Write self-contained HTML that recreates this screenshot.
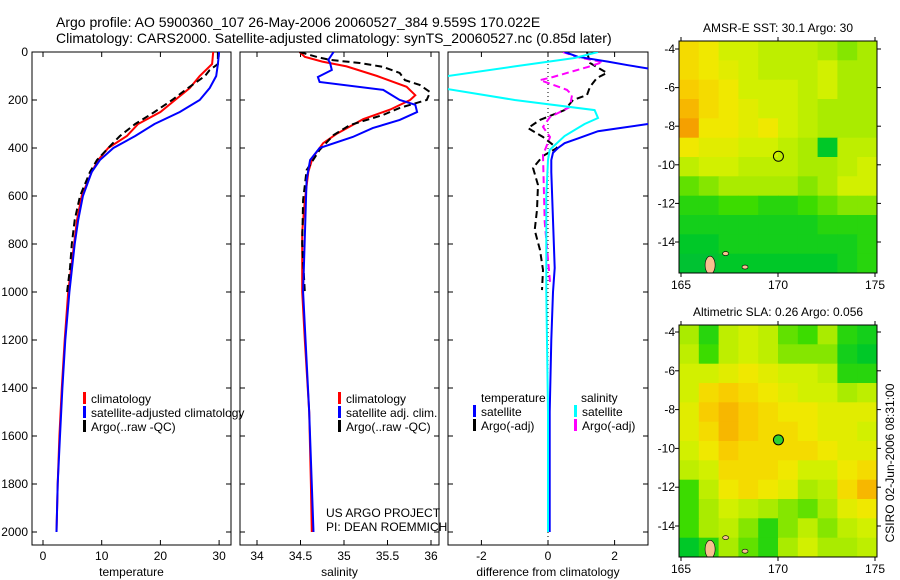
<!DOCTYPE html>
<html><head><meta charset="utf-8"><style>
html,body{margin:0;padding:0;background:#fff}
svg{display:block;font-family:"Liberation Sans",sans-serif}
text{fill:#000}
</style></head><body>
<svg id="fig" width="900" height="580" viewBox="0 0 900 580" xmlns="http://www.w3.org/2000/svg">
<defs>
<clipPath id="c1"><rect x="32" y="52" width="199" height="493"/></clipPath>
<clipPath id="c2"><rect x="240" y="52" width="199" height="493"/></clipPath>
<clipPath id="c3"><rect x="448" y="52" width="200" height="493"/></clipPath>
</defs>
<text x="56" y="27" font-size="14">Argo profile: AO 5900360_107 26-May-2006 20060527_384 9.559S 170.022E</text>
<text x="56" y="43" font-size="14">Climatology: CARS2000. Satellite-adjusted climatology: synTS_20060527.nc (0.85d later)</text>
<g id="g1"></g>
<g id="g2"></g>
<g id="g3"></g>
<g id="m1"></g>
<g id="m2"></g>
<text x="894" y="463" font-size="12" text-anchor="middle" transform="rotate(-90 894 463)">CSIRO 02-Jun-2006 08:31:00</text>
</svg>
<script>
// ---- profile data ----
const tDepth = [0,50,100,150,200,250,300,350,400,450,500,600,700,800,1000,1200,1400,1600,1800,2000];
const tClim  = [29,28.8,26.7,25,22.5,20,16.2,14.3,11.1,9.4,8.3,6.6,5.8,5.3,4.3,3.7,3.2,2.8,2.5,2.3];
const tSat   = [30,29.8,29.5,28.4,26.7,23.3,19,15.7,12,9.7,8.3,6.8,6,5.4,4.5,3.8,3.3,2.9,2.5,2.3];
const tArgoDepth = [0,50,75,100,150,200,250,300,350,400,450,500,600,700,800,900,1000];
const tArgo  = [29.8,29.8,28.4,27.6,24.7,22,19,15.7,13.1,11.1,9.2,8,6.3,5.4,4.9,4.6,4.1];

const sClimDepth = [0,20,40,60,100,145,180,200,240,280,340,380,440,500,620,750,1000,1200,1500,1800,2000];
const sClim = [34.49,34.55,34.75,35.03,35.38,35.72,35.82,35.76,35.53,35.22,34.92,34.76,34.64,34.59,34.55,34.52,34.52,34.55,34.6,34.62,34.63];
const sSatDepth = [0,33,46,75,104,125,158,200,220,250,283,317,354,400,450,533,1000,1500,2000];
const sSat = [34.88,34.82,34.84,34.86,34.7,34.72,35.45,35.64,35.82,35.84,35.64,35.33,35.1,34.72,34.61,34.57,34.53,34.6,34.65];
const sArgoDepth = [0,21,33,46,62,87,117,137,167,200,233,262,304,346,408,492,617,800,1000];
const sArgo = [34.49,34.69,34.84,35.18,35.45,35.64,35.7,35.87,35.99,35.95,35.64,35.45,35.07,34.88,34.72,34.57,34.53,34.52,34.55];

const dTSatDepth = [0,20,40,55,80,100,150,200,250,300,330,360,380,400,420,450,500,700,900,1000,1200,1500,2000];
const dTSat = [0.5,0.9,1.8,2.4,3.5,4,5,5,4,3.0,1.5,0.9,0.5,0.3,0.15,0.1,0.1,0.15,0.2,0.15,0.1,0.05,0.05];
const dSSatDepth = [0,25,60,104,150,200,242,275,300,350,408,450,600,1000,1500,2000];
const dSSat = [1.5,0.8,-1.0,-3.2,-3.2,-1.0,1.4,1.5,1.1,0.5,0.05,0,-0.05,-0.05,0,0];
const dTArgoDepth = [0,46,87,108,145,179,200,242,283,317,354,400,433,483,554,658,742,825,908,992];
const dTArgo = [1.17,1.26,1.77,1.47,1.26,1.17,0.75,0.5,-0.24,-0.6,-0.15,0.27,-0.15,-0.45,-0.3,-0.33,-0.4,-0.24,-0.15,-0.18];
const dSArgoDepth = [0,21,42,62,104,117,158,179,229,271,312,354,387,429,708,958];
const dSArgo = [0.45,0.87,1.65,1.2,0.15,-0.24,0.57,0.72,0.66,0.06,-0.15,0.06,-0.03,-0.15,-0.1,0.06];

const depthTicks = [0,200,400,600,800,1000,1200,1400,1600,1800,2000];
const tTicks = [0,10,20,30];
const sTicks = [34,34.5,35,35.5,36];
const dTicks = [-2,0,2];

// ---- map data (values 0 = green .. 1 = orange), rows lat -3.6..-15.6, cols lon 165..175 ----
const sstGrid = [
[.75,.7,.6,.6,.55,.55,.55,.5,.45,.5],
[.75,.7,.65,.6,.55,.55,.55,.6,.5,.5],
[.8,.75,.7,.6,.6,.6,.55,.6,.5,.5],
[.85,.75,.7,.65,.6,.6,.55,.5,.5,.5],
[.9,.7,.7,.65,.7,.6,.55,.5,.5,.5],
[.7,.65,.65,.6,.6,.55,.5,.2,.55,.55],
[.55,.6,.6,.55,.55,.55,.5,.5,.55,.6],
[.4,.45,.5,.5,.5,.5,.45,.5,.6,.6],
[.3,.3,.35,.35,.3,.3,.35,.4,.45,.45],
[.25,.25,.25,.25,.25,.25,.25,.3,.3,.3],
[.2,.2,.25,.25,.25,.25,.25,.25,.25,.3],
[.15,.15,.2,.2,.2,.2,.2,.2,.25,.3]];
const slaGrid = [
[.5,.3,.55,.6,.55,.4,.35,.5,.3,.25],
[.55,.35,.55,.6,.55,.45,.45,.45,.25,.2],
[.6,.6,.65,.7,.65,.6,.6,.55,.3,.3],
[.6,.75,.8,.75,.7,.65,.6,.6,.5,.55],
[.65,.8,.85,.8,.75,.7,.7,.65,.65,.65],
[.65,.75,.85,.8,.75,.75,.7,.65,.65,.6],
[.6,.7,.8,.75,.75,.75,.75,.7,.65,.65],
[.55,.6,.75,.75,.75,.7,.6,.6,.7,.75],
[.35,.55,.7,.75,.7,.65,.5,.55,.75,.85],
[.35,.5,.6,.55,.5,.45,.4,.5,.65,.7],
[.35,.5,.55,.45,.3,.45,.55,.45,.55,.6],
[.2,.3,.5,.4,.3,.5,.6,.5,.5,.55]];
const lonTicks = [165,170,175];
const latTicks = [-4,-6,-8,-10,-12,-14];
const argoLon = 170.022, argoLat = -9.559;

const NS = "http://www.w3.org/2000/svg";
function mk(tag, attrs, parent){const e=document.createElementNS(NS,tag);for(const k in attrs)e.setAttribute(k,attrs[k]);parent.appendChild(e);return e;}
const yD = d => 52 + d*0.24;

function panel(g, x0, w, xf, ticks, label, fmt){
  const r = mk('rect',{x:x0,y:52,width:w,height:493,fill:'none',stroke:'#000','stroke-width':1},g);
  
  
  ticks.forEach(t=>{
    const x=xf(t);
    mk('line',{x1:x,y1:545,x2:x,y2:540,stroke:'#000'},g);
    mk('line',{x1:x,y1:52,x2:x,y2:57,stroke:'#000'},g);
    const tx=mk('text',{x:x,y:560,'font-size':12,'text-anchor':'middle'},g);
    tx.textContent=fmt(t);
    
    
  });
  depthTicks.forEach(d=>{
    const y=yD(d);
    mk('line',{x1:x0+w,y1:y,x2:x0+w-5,y2:y,stroke:'#000'},g);
    mk('line',{x1:x0,y1:y,x2:x0+5,y2:y,stroke:'#000'},g);
  });
  const lt=mk('text',{x:x0+w/2,y:576,'font-size':12,'text-anchor':'middle'},g);
  lt.textContent=label;
  
  
}
function line(g, xs, ds, xf, color, clip, dash, width, name){
  const pts = xs.map((v,i)=>xf(v).toFixed(1)+','+yD(ds[i]).toFixed(1)).join(' ');
  const p=mk('polyline',{points:pts,fill:'none',stroke:color,'stroke-width':width||2,'clip-path':'url(#'+clip+')'},g);
  if(dash) p.setAttribute('stroke-dasharray',dash);
  
  
}
function legend(g, x, y, color, label){
  mk('rect',{x:x,y:y-6,width:3,height:12,fill:color},g);
  const t=mk('text',{x:x+8,y:y+5,'font-size':12},g);
  t.textContent=label;
  
  
}

// Panel 1 temperature
const g1=document.getElementById('g1');
const xT = v => 43 + v*5.87;
panel(g1,32,199,xT,tTicks,'temperature',v=>String(v));
depthTicks.forEach(d=>{
  const t=mk('text',{x:28,y:yD(d)+4,'font-size':12,'text-anchor':'end'},g1);
  t.textContent=String(d);
  
  
});
line(g1,tClim,tDepth,xT,'#ff0000','c1',null,2,'temperature-climatology-line');
line(g1,tArgo,tArgoDepth,xT,'#000','c1','7,4',2,'temperature-argo-line');
line(g1,tSat,tDepth,xT,'#0000ff','c1',null,2,'temperature-satellite-line');
legend(g1,83,398,'#ff0000','climatology');
legend(g1,83,412,'#0000ff','satellite-adjusted climatology');
legend(g1,83,426,'#000','Argo(..raw -QC)');

// Panel 2 salinity
const g2=document.getElementById('g2');
const xS = v => 257 + (v-34)*87;
panel(g2,240,199,xS,sTicks,'salinity',v=>String(v));
line(g2,sClim,sClimDepth,xS,'#ff0000','c2',null,2,'salinity-climatology-line');
line(g2,sArgo,sArgoDepth,xS,'#000','c2','7,4',2,'salinity-argo-line');
line(g2,sSat,sSatDepth,xS,'#0000ff','c2',null,2,'salinity-satellite-line');
legend(g2,338,398,'#ff0000','climatology');
legend(g2,338,412,'#0000ff','satellite adj. clim.');
legend(g2,338,426,'#000','Argo(..raw -QC)');
[['US ARGO PROJECT',517],['PI: DEAN ROEMMICH',531]].forEach(([s,y])=>{
  const t=mk('text',{x:326,y:y,'font-size':12},g2);
  t.textContent=s;
  
  
});

// Panel 3 differences
const g3=document.getElementById('g3');
const xDf = v => 548 + v*33.3;
panel(g3,448,200,xDf,dTicks,'difference from climatology',v=>String(v));
const zl=mk('line',{x1:548,y1:52,x2:548,y2:545,stroke:'#000','stroke-dasharray':'1,3'},g3);


line(g3,dTArgo,dTArgoDepth,xDf,'#000','c3','7,4',2,'temperature-argo-diff-line');
line(g3,dSArgo,dSArgoDepth,xDf,'#ff00ff','c3','7,4',2,'salinity-argo-diff-line');
line(g3,dTSat,dTSatDepth,xDf,'#0000ff','c3',null,2,'temperature-satellite-diff-line');
line(g3,dSSat,dSSatDepth,xDf,'#00ffff','c3',null,2,'salinity-satellite-diff-line');
[['temperature',481],['salinity',581]].forEach(([s,x])=>{
  const t=mk('text',{x:x,y:402,'font-size':12},g3);
  t.textContent=s;
  
  
});
legend(g3,473,411,'#0000ff','satellite');
legend(g3,473,425,'#000','Argo(-adj)');
legend(g3,574,411,'#00ffff','satellite');
legend(g3,574,425,'#ff00ff','Argo(-adj)');

// Maps
const stops=[[0,[0,176,80]],[0.2,[0,200,40]],[0.35,[60,220,0]],[0.5,[170,235,0]],[0.6,[210,240,0]],[0.7,[240,232,0]],[0.8,[248,205,0]],[0.9,[245,160,0]],[1,[230,110,0]]];
function cmap(v){
  for(let i=1;i<stops.length;i++){
    if(v<=stops[i][0]){const a=stops[i-1],b=stops[i];const f=(v-a[0])/(b[0]-a[0]);
      const c=a[1].map((x,k)=>Math.round(x+(b[1][k]-x)*f));return 'rgb('+c.join(',')+')';}
  }
  return 'rgb(230,110,0)';
}
function map(g, top, bottom, grid, title, filled){
  const x0=681, pxLon=19.4, lat4y=top.lat4, pxLat=top.pxLat;
  const xL = lon => x0 + (lon-165)*pxLon;
  const yL = lat => lat4y + (-4-lat)*pxLat;
  const fx0=679, fx1=877, fy0=top.y0, fy1=bottom;
  const cp=mk('clipPath',{id:'cp'+g.id},g);
  mk('rect',{x:fx0,y:fy0,width:fx1-fx0,height:fy1-fy0},cp);
  const cg=mk('g',{'clip-path':'url(#cp'+g.id+')'},g);
  const nC=grid[0].length, nR=grid.length;
  const cw=(fx1-fx0)/nC, ch=(fy1-fy0)/nR;
  grid.forEach((row,r)=>row.forEach((v,c)=>{
    const cell=mk('rect',{x:(fx0+c*cw).toFixed(1),y:(fy0+r*ch).toFixed(1),width:cw+0.6,height:ch+0.6,fill:cmap(v)},cg);
    
    
  }));
  // islands
  [[166.5,-15.2],[168.3,-15.3],[167.3,-14.6]].forEach(([lo,la],i)=>{
    const isl=mk('ellipse',{cx:xL(lo),cy:yL(la),rx:i==0?5:3,ry:i==0?9:2,fill:'#f8c090',stroke:'#000','stroke-width':0.6},cg);
    
    
  });
  const fr=mk('rect',{x:fx0,y:fy0,width:fx1-fx0,height:fy1-fy0,fill:'none',stroke:'#000'},g);
  
  
  lonTicks.forEach(lo=>{
    const x=xL(lo);
    mk('line',{x1:x,y1:fy1,x2:x,y2:fy1+4,stroke:'#000'},g);
    mk('line',{x1:x,y1:fy0,x2:x,y2:fy0-4,stroke:'#000'},g);
    const t=mk('text',{x:x,y:fy1+16,'font-size':12,'text-anchor':'middle'},g);
    t.textContent=String(lo);
    
    
  });
  latTicks.forEach(la=>{
    const y=yL(la);
    mk('line',{x1:fx0,y1:y,x2:fx0-4,y2:y,stroke:'#000'},g);
    mk('line',{x1:fx1,y1:y,x2:fx1+4,y2:y,stroke:'#000'},g);
    const t=mk('text',{x:675,y:y+4,'font-size':12,'text-anchor':'end'},g);
    t.textContent=String(la);
    
    
  });
  const mk1=mk('circle',{cx:xL(argoLon),cy:yL(argoLat),r:5,fill:filled?'#30d030':'none',stroke:'#000','stroke-width':1},g);
  
  
  const tt=mk('text',{x:778,y:fy0-9,'font-size':12,'text-anchor':'middle'},g);
  tt.textContent=title;
  
  
}
map(document.getElementById('m1'),{y0:41,lat4:49,pxLat:19.3},273,sstGrid,'AMSR-E SST: 30.1 Argo: 30',false);
map(document.getElementById('m2'),{y0:325,lat4:332,pxLat:19.4},557,slaGrid,'Altimetric SLA: 0.26 Argo: 0.056',true);
</script>
</body></html>
